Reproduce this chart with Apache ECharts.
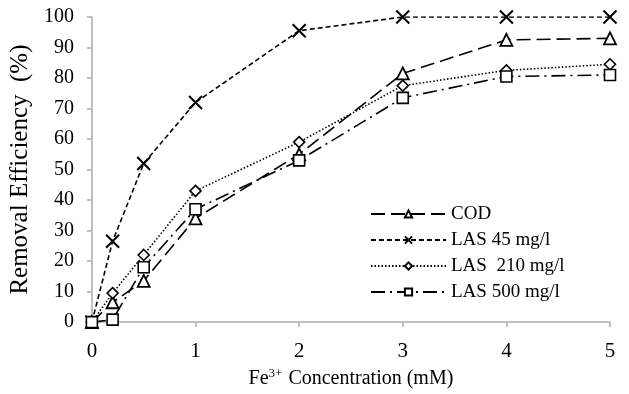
<!DOCTYPE html>
<html>
<head>
<meta charset="utf-8">
<script src="https://cdn.jsdelivr.net/npm/echarts@6/dist/echarts.min.js"></script>
<style>
html,body{margin:0;padding:0;background:#fff;}
#chart{width:629px;height:394px;}
</style>
</head>
<body>
<div id="chart"></div>
<script>
var xValues = [0, 0.2, 0.5, 1, 2, 3, 4, 5];
var seriesNames = ['COD', 'LAS 45 mg/l', 'LAS  210 mg/l', 'LAS 500 mg/l'];
var cod    = [0, 6.5, 13.5, 34, 55, 81.5, 92.5, 93];
var las45  = [0, 26.5, 52, 72, 95.5, 100, 100, 100];
var las210 = [0, 9.5, 22, 43, 59, 77.5, 82.5, 84.5];
var las500 = [0, 0.8, 18, 37, 53, 73.5, 80.5, 81];
var yTicks = [0, 10, 20, 30, 40, 50, 60, 70, 80, 90, 100];
var xTicks = [0, 1, 2, 3, 4, 5];

function pairs(ys) { return xValues.map(function (x, i) { return [x, ys[i]]; }); }

var FONT = '"Liberation Serif", "Times New Roman", serif';
var crossPath = 'path://M0,0L10,10M0,10L10,0';

function mk(name, ys, symbol, size, dash, fill, bw) {
  return {
    name: name,
    type: 'line',
    data: pairs(ys),
    symbol: symbol,
    symbolSize: size,
    showSymbol: true,
    z: 3,
    lineStyle: { color: '#000', width: 1.6, type: dash },
    itemStyle: { color: fill, borderColor: '#000', borderWidth: bw },
    emphasis: { disabled: true }
  };
}

var chart = echarts.init(document.getElementById('chart'));
chart.setOption({
  animation: false,
  backgroundColor: '#fff',
  grid: { left: 88, right: 19, top: 17, bottom: 67 },
  legend: {
    orient: 'vertical',
    left: 365,
    top: 199,
    itemWidth: 75,
    itemHeight: 9,
    itemGap: 6,
    textStyle: { fontFamily: FONT, fontSize: 19, color: '#000', lineHeight: 20 },
    data: seriesNames
  },
  xAxis: {
    type: 'value',
    min: 0, max: 5, interval: 1,
    name: '{a|Fe}{s|3+}{a| Concentration (mM)}',
    nameLocation: 'middle',
    nameGap: 34,
    nameTextStyle: {
      rich: {
        a: { fontFamily: FONT, fontSize: 20, color: '#000', lineHeight: 22, verticalAlign: 'bottom' },
        s: { fontFamily: FONT, fontSize: 13, color: '#000', lineHeight: 22, verticalAlign: 'top', padding: [0, 1, 8, 0] }
      }
    },
    axisLine: { lineStyle: { color: '#bfbfbf', width: 2 } },
    axisTick: { show: true, length: 5, lineStyle: { color: '#bfbfbf', width: 2 } },
    axisLabel: {
      margin: 19, fontFamily: FONT, fontSize: 21, color: '#000',
      formatter: function (v) { return xTicks.indexOf(v) >= 0 ? String(v) : ''; }
    },
    splitLine: { show: false }
  },
  yAxis: {
    type: 'value',
    min: 0, max: 100, interval: 10,
    name: 'Removal Efficiency  (%)',
    nameLocation: 'middle',
    nameGap: 47,
    nameTextStyle: { fontFamily: FONT, fontSize: 25, color: '#000' },
    axisLine: { show: true, lineStyle: { color: '#bfbfbf', width: 2 } },
    axisTick: { show: true, length: 5, lineStyle: { color: '#bfbfbf', width: 2 } },
    axisLabel: {
      margin: 18, fontFamily: FONT, fontSize: 20, color: '#000',
      formatter: function (v) { return yTicks.indexOf(v) >= 0 ? String(v) : ''; }
    },
    splitLine: { show: false }
  },
  series: [
    mk(seriesNames[0], cod, 'triangle', 12, [14, 6], '#fff', 1.8),
    mk(seriesNames[1], las45, crossPath, 13, [5, 3], 'transparent', 2),
    mk(seriesNames[2], las210, 'diamond', 11, [1.5, 2], '#fff', 1.6),
    mk(seriesNames[3], las500, 'rect', 11, [14, 5, 2, 5], '#fff', 1.6)
  ]
});
</script>
</body>
</html>
